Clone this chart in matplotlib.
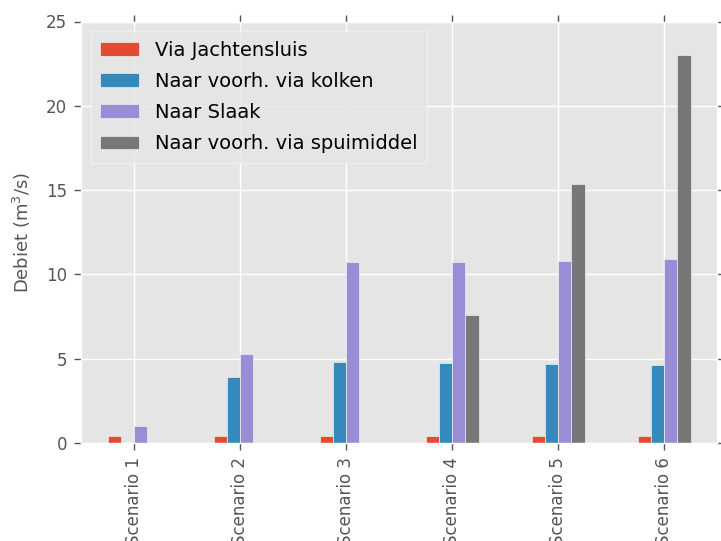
import numpy as np
import matplotlib
matplotlib.use("Agg")
import matplotlib.pyplot as plt

scenarios = ["Scenario 1", "Scenario 2", "Scenario 3", "Scenario 4", "Scenario 5", "Scenario 6"]
series_names = ["Via Jachtensluis", "Naar voorh. via kolken", "Naar Slaak", "Naar voorh. via spuimiddel"]
via_jachtensluis = [0.4, 0.4, 0.4, 0.4, 0.4, 0.4]
naar_voorh_kolken = [0.0, 3.9, 4.8, 4.75, 4.7, 4.6]
naar_slaak = [1.0, 5.25, 10.75, 10.75, 10.8, 10.9]
naar_voorh_spuimiddel = [0.0, 0.0, 0.0, 7.6, 15.35, 23.0]

colors = ["#E24A33", "#348ABD", "#988ED5", "#777777"]
series = [via_jachtensluis, naar_voorh_kolken, naar_slaak, naar_voorh_spuimiddel]

fig = plt.figure(figsize=(7.21, 5.41), dpi=100)
W, H = 721, 541
left, right, top, bottom = 81, 717, 21.5, 443
ax = fig.add_axes([left / W, (H - bottom) / H, (right - left) / W, (bottom - top) / H])
ax.set_facecolor("#E5E5E5")
for s in ax.spines.values():
    s.set_color("white")
    s.set_linewidth(1)

x = np.arange(len(scenarios))
n = len(series)
bw = 0.5 / n
for i, (vals, name, c) in enumerate(zip(series, series_names, colors)):
    offs = (i - (n - 1) / 2) * bw
    ax.bar(x + offs, vals, width=bw, color=c, edgecolor="#EEEEEE", linewidth=0.5,
           label=name, zorder=2)

ax.set_xlim(-0.5, len(scenarios) - 0.5)
ax.set_ylim(0, 25)
ax.set_yticks([0, 5, 10, 15, 20, 25])
ax.set_xticks(x)
ax.set_xticklabels(scenarios, rotation=90)
ax.grid(True, color="white", linewidth=1, zorder=0)
ax.set_axisbelow(True)
ax.tick_params(axis="both", which="both", direction="out", length=5, width=1,
               color="#555555", labelcolor="#555555", labelsize=12,
               top=True, right=True, labeltop=False, labelright=False, pad=5)
ax.set_ylabel("Debiet (m$^3$/s)", fontsize=13, color="#555555", labelpad=9)

leg = ax.legend(loc="upper left", fontsize=14, frameon=True, fancybox=False,
                labelspacing=0.62, borderpad=0.5)
leg.get_frame().set_facecolor("#E5E5E5")
leg.get_frame().set_edgecolor("#F2F2F2")
leg.get_frame().set_linewidth(1)

fig.savefig("out.png", dpi=100, facecolor="white")
